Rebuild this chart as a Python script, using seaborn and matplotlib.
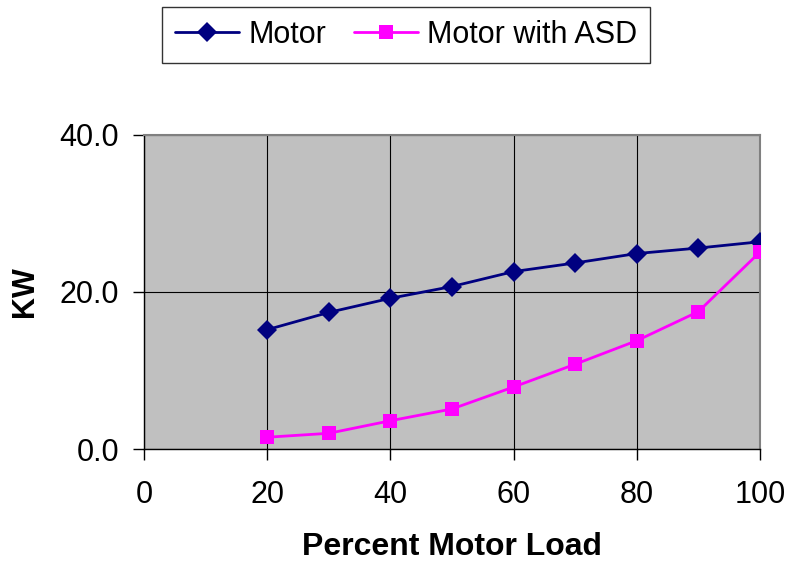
import matplotlib
matplotlib.use("Agg")
import matplotlib.pyplot as plt
import seaborn as sns
import pandas as pd

load = [20, 30, 40, 50, 60, 70, 80, 90, 100]
motor_kw = [15.2, 17.4, 19.2, 20.7, 22.6, 23.7, 24.9, 25.6, 26.4]
asd_kw = [1.5, 2.0, 3.6, 5.1, 7.9, 10.8, 13.8, 17.5, 25.1]
x_ticks = [0, 20, 40, 60, 80, 100]
y_ticks = [0, 20, 40]

df = pd.DataFrame({
    "load": load * 2,
    "kw": motor_kw + asd_kw,
    "series": ["Motor"] * len(load) + ["Motor with ASD"] * len(load),
})

sns.set_style("white")
plt.rcParams["font.family"] = ["Liberation Sans", "DejaVu Sans"]
plt.rcParams["text.color"] = "black"
plt.rcParams["axes.labelcolor"] = "black"
plt.rcParams["xtick.color"] = "black"
plt.rcParams["ytick.color"] = "black"

fig = plt.figure(figsize=(7.89, 5.66), dpi=100)
ax = fig.add_axes([0.1825, 0.2067, 0.7807, 0.5548])
ax.set_facecolor("#C0C0C0")

palette = {"Motor": "#000080", "Motor with ASD": "#FF00FF"}
markers = {"Motor": "D", "Motor with ASD": "s"}
sns.lineplot(data=df, x="load", y="kw", hue="series", style="series",
             palette=palette, markers=markers, dashes=False, markersize=10,
             markeredgewidth=0, linewidth=2, ax=ax, zorder=3)

ax.set_xlim(0, 100)
ax.set_ylim(0, 40)
ax.set_xticks(x_ticks)
ax.set_yticks(y_ticks)
ax.set_yticklabels([f"{v:.1f}" for v in y_ticks])
ax.grid(True, color="black", linewidth=0.8)
ax.set_axisbelow(True)
for s in ["top", "right"]:
    ax.spines[s].set_color("#808080")
    ax.spines[s].set_linewidth(1.5)
for s in ["left", "bottom"]:
    ax.spines[s].set_color("black")
    ax.spines[s].set_linewidth(1)
ax.tick_params(axis="both", which="major", labelsize=22, length=8, width=1,
               direction="out", color="black", labelcolor="black",
               bottom=True, left=True)
ax.tick_params(axis="x", pad=14)
ax.tick_params(axis="y", pad=10)
ax.set_xlabel("Percent Motor Load", fontsize=23, fontweight="bold", labelpad=16)
ax.set_ylabel("KW", fontsize=22, fontweight="bold", labelpad=14)

handles, labels = ax.get_legend_handles_labels()
ax.legend_.remove()
leg = fig.legend(handles, labels, loc="center", bbox_to_anchor=(406 / 789, 1 - 35 / 566),
                 ncol=2, fontsize=22, frameon=True, fancybox=False, edgecolor="black",
                 handlelength=2.1, columnspacing=0.9, handletextpad=0.3, borderpad=0.42,
                 borderaxespad=0)
leg.get_frame().set_linewidth(1)

fig.savefig("out.png", dpi=100)
